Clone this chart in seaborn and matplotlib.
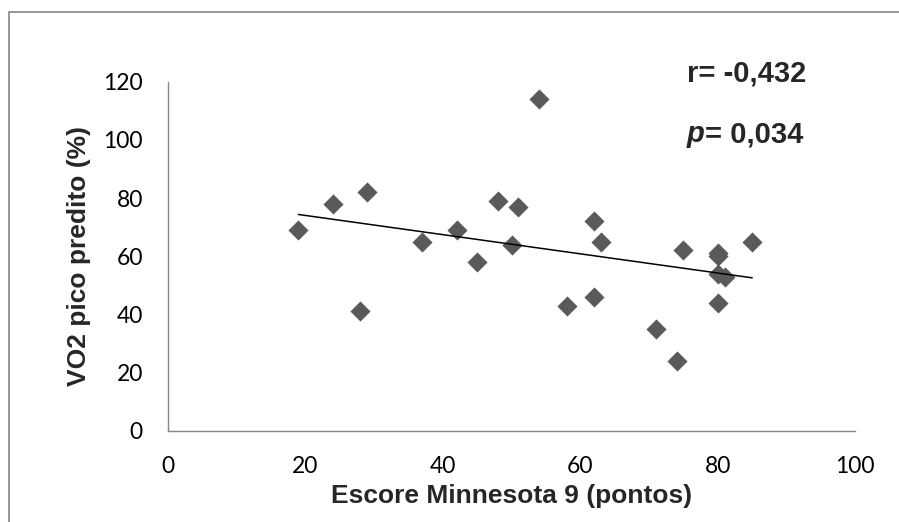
import numpy as np
import pandas as pd
import matplotlib
matplotlib.use("Agg")
import matplotlib.pyplot as plt
import seaborn as sns
from matplotlib.patches import Rectangle

# --------------------------------------------------
# Data
# --------------------------------------------------
escore = [19, 24, 29, 28, 37, 42, 45, 48, 50, 51, 54, 62,
          63, 58, 62, 71, 74, 75, 80, 80, 80, 81, 80, 85]
vo2 = [69, 78, 82, 41, 65, 69, 58, 79, 64, 77, 114, 72,
       65, 43, 46, 35, 24, 62, 61, 60, 54, 53, 44, 65]
r_label = "r= -0,432"
p_label = "= 0,034"

df = pd.DataFrame({"escore": escore, "vo2": vo2})

# --------------------------------------------------
# Plot
# --------------------------------------------------
sns.set_style("white")
grey = "#868686"

fig = plt.figure(figsize=(8.99, 5.22), dpi=100)
ax = fig.add_axes([0.1866, 0.1749, 0.7648, 0.6686])

sns.regplot(
    data=df, x="escore", y="vo2", ax=ax, ci=None, marker="D",
    scatter_kws={"s": 105, "color": "#5a5a5a", "linewidths": 0, "alpha": 1},
    line_kws={"color": "black", "linewidth": 1.1},
)

ax.set_xlim(0, 100)
ax.set_ylim(0, 120)
ax.set_xticks([0, 20, 40, 60, 80, 100])
ax.set_yticks([0, 20, 40, 60, 80, 100, 120])

for s in ["top", "right"]:
    ax.spines[s].set_visible(False)
for s in ["left", "bottom"]:
    ax.spines[s].set_color(grey)
    ax.spines[s].set_linewidth(1.0)

ax.tick_params(axis="both", direction="out", length=7, width=1.0, color=grey,
               labelsize=16.5, labelcolor="black")
ax.tick_params(axis="y", pad=11)
ax.tick_params(axis="x", pad=11)
for lab in ax.get_xticklabels() + ax.get_yticklabels():
    lab.set_fontfamily("Lato")

ax.set_xlabel("Escore Minnesota 9 (pontos)", fontsize=19, fontweight="bold",
              family="Liberation Sans", labelpad=5)
ax.set_ylabel("VO2 pico predito (%)", fontsize=19, fontweight="bold",
              family="Liberation Sans", labelpad=9)

# annotations r / p
ax.text(75.5, 122.9, r_label, fontsize=21, fontweight="bold",
        family="Liberation Sans", ha="left", va="center", clip_on=False)
p_txt = ax.text(75.5, 102.0, "p", fontsize=21, fontweight="bold",
                style="italic", family="Liberation Sans",
                ha="left", va="center", clip_on=False)
ax.annotate(p_label, xy=(1, 0), xycoords=p_txt, ha="left", va="bottom",
            fontsize=21, fontweight="bold", family="Liberation Sans")

# outer frame of the chart area
fig.patches.append(Rectangle((9 / 899, -0.1), 1.2, 1 - 12 / 522 + 0.1,
                             transform=fig.transFigure, fill=False,
                             edgecolor=grey, linewidth=1.2))

fig.savefig("out.png", dpi=100)
